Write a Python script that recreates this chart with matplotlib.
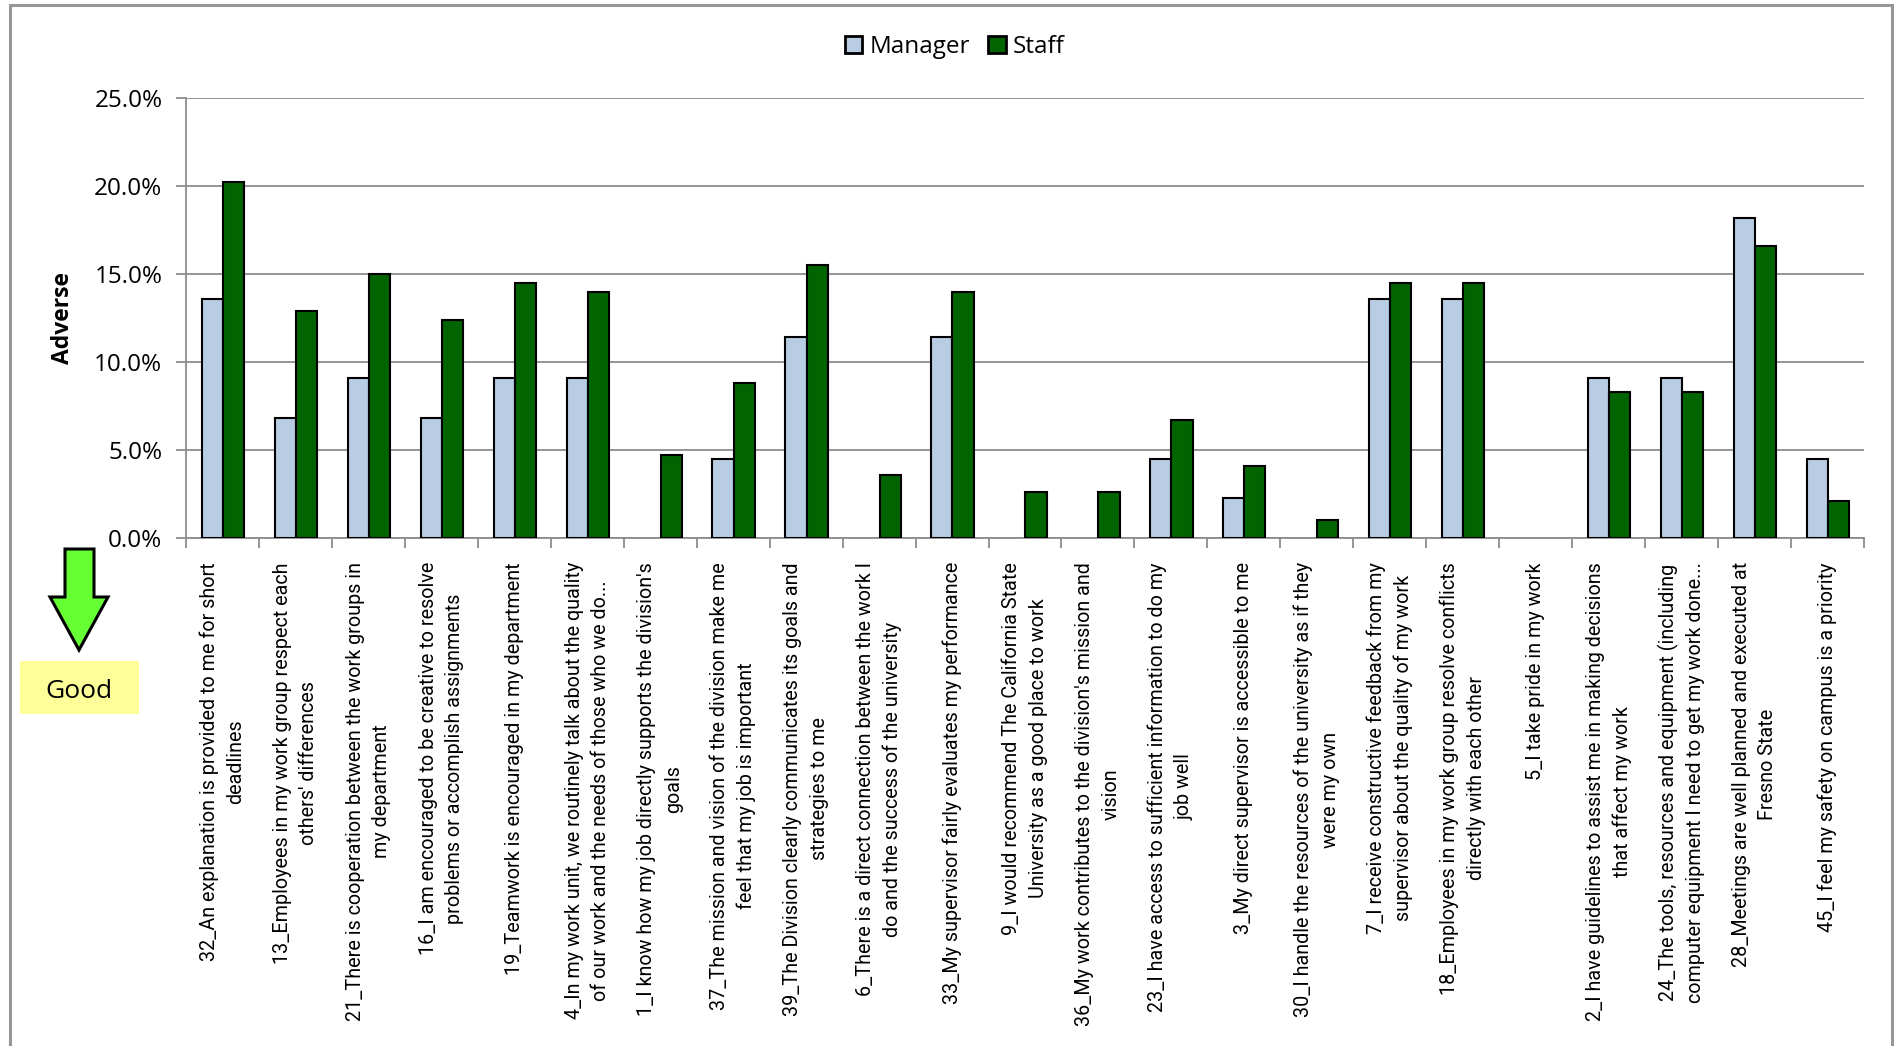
import matplotlib
matplotlib.use("Agg")
import matplotlib.pyplot as plt
from matplotlib.patches import Polygon, Rectangle

W = 1894
H = 1046

questions = [
    "32_An explanation is provided to me for short\ndeadlines",
    "13_Employees in my work group respect each\nothers' differences",
    "21_There is cooperation between the work groups in\nmy department",
    "16_I am encouraged to be creative to resolve\nproblems or accomplish assignments",
    "19_Teamwork is encouraged in my department",
    "4_In my work unit, we routinely talk about the quality\nof our work and the needs of those who we do...",
    "1_I know how my job directly supports the division's\ngoals",
    "37_The mission and vision of the division make me\nfeel that my job is important",
    "39_The Division clearly communicates its goals and\nstrategies to me",
    "6_There is a direct connection between the work I\ndo and the success of the university",
    "33_My supervisor fairly evaluates my performance",
    "9_I would recommend The California State\nUniversity as a good place to work",
    "36_My work contributes to the division's mission and\nvision",
    "23_I have access to sufficient information to do my\njob well",
    "3_My direct supervisor is accessible to me",
    "30_I handle the resources of the university as if they\nwere my own",
    "7_I receive constructive feedback from my\nsupervisor about the quality of my work",
    "18_Employees in my work group resolve conflicts\ndirectly with each other",
    "5_I take pride in my work",
    "2_I have guidelines to assist me in making decisions\nthat affect my work",
    "24_The tools, resources and equipment (including\ncomputer equipment I need to get my work done...",
    "28_Meetings are well planned and executed at\nFresno State",
    "45_I feel my safety on campus is a priority",
]
manager = [13.6, 6.8, 9.1, 6.8, 9.1, 9.1, 0, 4.5, 11.4, 0, 11.4, 0, 0, 4.5, 2.3, 0, 13.6, 13.6, 0, 9.1, 9.1, 18.2, 4.5]
staff = [20.2, 12.9, 15.0, 12.4, 14.5, 14.0, 4.7, 8.8, 15.5, 3.6, 14.0, 2.6, 2.6, 6.7, 4.1, 1.0, 14.5, 14.5, 0, 8.3, 8.3, 16.6, 2.1]
yticks = [0, 5, 10, 15, 20, 25]

plt.rcParams["font.family"] = "Open Sans"

fig = plt.figure(figsize=(W / 100, H / 100), dpi=100)
fig.patch.set_facecolor("white")

# outer frame of the chart
fig.add_artist(Rectangle((10 / W, -0.02), (1892 - 10) / W, 1.02 - 5 / H, transform=fig.transFigure,
                         facecolor="none", edgecolor="#969696", linewidth=2.2))

ax = fig.add_axes([186 / W, 1 - 538 / H, (1864 - 186) / W, (538 - 98) / H])

x = list(range(len(questions)))
w = 0.29
# zero values get no outline, the reference shows nothing there
ax.bar([i - w / 2 + 0.006 for i in x], manager, width=w, color="#b8cce4", edgecolor="black",
       linewidth=[1.5 if v > 0 else 0 for v in manager], label="Manager", zorder=3)
ax.bar([i + w / 2 + 0.006 for i in x], staff, width=w, color="#006400", edgecolor="black",
       linewidth=[1.5 if v > 0 else 0 for v in staff], label="Staff", zorder=3)

ax.set_xlim(-0.5, len(questions) - 0.5)
ax.set_ylim(0, 25)
ax.set_yticks(yticks)
ax.set_yticklabels(["%.1f%%" % v for v in yticks], fontsize=17.5, color="black")
ax.yaxis.grid(True, color="#8c8c8c", linewidth=1.3, zorder=0)
ax.set_axisbelow(True)
ax.tick_params(axis="y", length=7, width=1.3, color="#8c8c8c", pad=10)

ax.set_xticks([i - 0.5 for i in range(len(questions) + 1)])
ax.set_xticklabels([])
ax.tick_params(axis="x", length=7, width=1.3, color="#8c8c8c")
for i, q in enumerate(questions):
    ax.annotate(q, xy=(i, 0), xycoords=("data", "axes fraction"), xytext=(0, -24 * 0.72),
                textcoords="offset points", rotation=90, ha="center", va="top", multialignment="center",
                family="Roboto", fontsize=14.2, color="black", linespacing=1.5)

for side in ["top", "right"]:
    ax.spines[side].set_visible(False)
for side in ["left", "bottom"]:
    ax.spines[side].set_color("#8c8c8c")
    ax.spines[side].set_linewidth(1.3)

ax.set_ylabel("Adverse", fontsize=16.5, fontweight="bold", labelpad=14)

leg = fig.legend(loc="center", bbox_to_anchor=(955 / W, 1 - 47 / H), ncol=2, frameon=False, fontsize=17.5,
                 handlelength=0.7, handleheight=0.7, handletextpad=0.3, columnspacing=0.75)
for patch in leg.get_patches():
    patch.set_linewidth(2)

# green arrow and the Good box
arrow = [(65, 549), (94, 549), (94, 597), (108, 597), (79, 650), (50, 597), (65, 597)]
fig.add_artist(Polygon([(px / W, 1 - py / H) for px, py in arrow], closed=True, transform=fig.transFigure,
                       facecolor="#66ff33", edgecolor="black", linewidth=2.2, joinstyle="miter"))
fig.add_artist(Rectangle((20 / W, 1 - 714 / H), 119 / W, 53 / H, transform=fig.transFigure,
                         facecolor="#ffff99", edgecolor="none"))
fig.text(79 / W, 1 - 692 / H, "Good", ha="center", va="center", fontsize=19, color="black")

fig.savefig("out.png", dpi=100)
